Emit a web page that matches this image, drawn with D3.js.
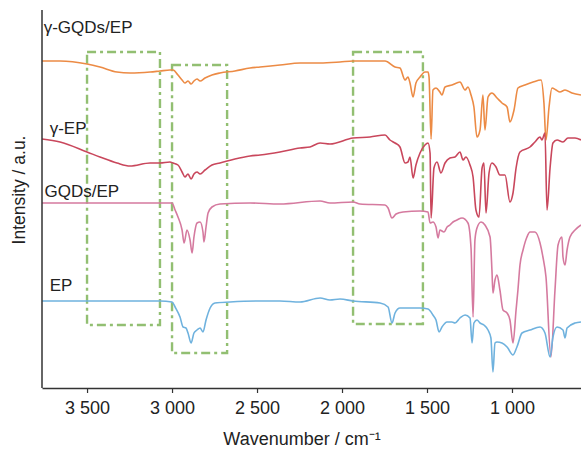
<!DOCTYPE html>
<html>
<head>
<meta charset="utf-8">
<script src="https://cdn.jsdelivr.net/npm/d3@7"></script>
<style>
  body { margin: 0; background: #fff; }
  svg { display: block; font-family: "Liberation Sans", Arial, sans-serif; }
</style>
</head>
<body>
<div id="chart"></div>
<script>
// FTIR spectra, wavenumber (cm-1) vs intensity (a.u., stacked)
const seriesNames = ["γ-GQDs/EP", "γ-EP", "GQDs/EP", "EP"];
const seriesColors = ["#ec8b45", "#c9475c", "#d57a9f", "#6fb2de"];
const xTicks = [3500, 3000, 2500, 2000, 1500, 1000];

const gammaGqdsEp = [[3765,327],[3659,327],[3500,324],[3424,321],[3324,316],[3247,315],[3129,316],[3071,317],[3012,318],[2994,318],[2965,313],[2941,308],[2924,305],[2906,307],[2888,304],[2871,307],[2853,309],[2835,307],[2806,310],[2765,313],[2718,315],[2630,317],[2541,320],[2482,321],[2365,323],[2247,325],[2129,325],[2012,326],[1935,327],[1835,327],[1747,327],[1688,321],[1659,320],[1629,308],[1612,311],[1600,305],[1582,291],[1565,305],[1541,311],[1512,316],[1494,316],[1488,311],[1476,249],[1465,298],[1447,300],[1424,296],[1412,293],[1394,301],[1353,303],[1306,306],[1276,298],[1259,301],[1241,293],[1224,281],[1206,251],[1188,258],[1171,293],[1159,258],[1141,291],[1118,295],[1088,290],[1059,285],[1029,281],[1012,266],[988,278],[965,300],[924,303],[876,306],[829,308],[812,285],[800,248],[782,281],[765,300],[741,298],[718,296],[688,298],[647,295],[594,293]];

const gammaEp = [[3765,249],[3659,246],[3500,236],[3424,231],[3324,225],[3247,222],[3129,225],[3071,225],[3012,226],[2994,225],[2965,223],[2941,216],[2924,211],[2906,214],[2888,209],[2871,214],[2853,216],[2835,214],[2806,218],[2765,223],[2718,225],[2630,229],[2541,232],[2482,233],[2365,236],[2247,240],[2188,241],[2129,245],[2071,244],[1935,250],[1835,251],[1747,253],[1718,248],[1688,245],[1659,241],[1629,225],[1612,226],[1600,231],[1582,210],[1565,223],[1541,235],[1512,243],[1494,245],[1482,235],[1476,170],[1459,220],[1441,226],[1418,215],[1394,225],[1365,230],[1335,231],[1306,236],[1288,228],[1271,231],[1247,223],[1229,211],[1212,178],[1194,171],[1176,220],[1165,225],[1153,175],[1135,215],[1118,225],[1094,221],[1071,213],[1041,213],[1012,186],[994,195],[976,220],[953,236],[894,241],[865,246],[835,251],[824,248],[806,255],[794,178],[776,220],[759,245],[735,248],[700,246],[671,250],[629,250],[594,248]];

const gqdsEp = [[3765,185],[3500,185],[3071,185],[3000,185],[2982,178],[2965,171],[2941,158],[2929,145],[2912,158],[2894,148],[2882,135],[2871,151],[2853,165],[2835,166],[2818,156],[2812,146],[2800,161],[2788,175],[2765,181],[2718,184],[2541,185],[2365,184],[2129,187],[2071,185],[1935,186],[1894,184],[1747,183],[1729,180],[1706,170],[1682,174],[1641,176],[1541,177],[1494,176],[1482,165],[1465,166],[1447,161],[1435,150],[1424,158],[1400,156],[1382,161],[1365,163],[1347,166],[1324,168],[1294,170],[1259,165],[1241,140],[1229,71],[1218,148],[1206,160],[1182,166],[1159,163],[1129,151],[1118,118],[1112,95],[1100,108],[1088,113],[1071,98],[1053,78],[1029,75],[1012,68],[994,45],[976,78],[965,98],[953,123],[935,138],[912,151],[894,156],[865,156],[835,145],[818,131],[800,111],[771,31],[747,98],[729,143],[706,151],[700,131],[688,123],[676,138],[659,151],[629,158],[594,163]];

const ep = [[3765,87],[3659,87],[3500,87],[3071,87],[3000,86],[2982,81],[2953,71],[2935,61],[2918,60],[2906,55],[2888,45],[2871,55],[2853,58],[2835,60],[2818,56],[2800,68],[2776,80],[2747,85],[2659,86],[2482,87],[2365,87],[2247,86],[2129,90],[2071,88],[2012,89],[1935,87],[1776,85],[1729,81],[1706,65],[1688,75],[1659,80],[1541,80],[1494,79],[1465,73],[1447,68],[1429,56],[1412,61],[1382,66],[1353,66],[1335,65],[1306,70],[1276,73],[1247,70],[1235,45],[1224,65],[1206,68],[1188,65],[1165,63],[1141,58],[1124,50],[1112,16],[1100,45],[1088,46],[1059,45],[1029,41],[994,33],[971,41],[941,55],[894,58],[835,61],[806,55],[776,31],[759,51],[735,61],[700,58],[688,50],[676,60],[629,65],[594,66]];

const allSeries = [gammaGqdsEp, gammaEp, gqdsEp, ep];

// highlighted regions: [wavenumber from, wavenumber to, intensity top, intensity bottom]
const boxes = [[3500, 3071, 336, 63], [3000, 2676, 323, 35], [1935, 1524, 336, 64]];
// label anchor: [wavenumber, intensity]
const labelPos = [[3755, 355], [3720, 254], [3750, 191], [3720, 97]];

const width = 581;
const height = 451;
const margin = { top: 10, right: 0, bottom: 63, left: 42 };

const svg = d3.select("#chart")
  .append("svg")
  .attr("width", width)
  .attr("height", height);

const x = d3.scaleLinear()
  .domain([3765, 594])
  .range([margin.left, width - margin.right]);

const y = d3.scaleLinear()
  .domain([0, 378])
  .range([height - margin.bottom, margin.top]);

// dashed boxes
svg.selectAll(".box")
  .data(boxes)
  .enter()
  .append("rect")
  .attr("class", "box")
  .attr("x", d => x(d[0]))
  .attr("y", d => y(d[2]))
  .attr("width", d => x(d[1]) - x(d[0]))
  .attr("height", d => y(d[3]) - y(d[2]))
  .attr("fill", "none")
  .attr("stroke", "#92bf72")
  .attr("stroke-width", 2.4)
  .attr("stroke-dasharray", "9,4,3,4");

// spectra
const line = d3.line()
  .x(d => x(d[0]))
  .y(d => y(d[1]))
  .curve(d3.curveMonotoneX);

svg.selectAll(".spec")
  .data(allSeries)
  .enter()
  .append("path")
  .attr("class", "spec")
  .attr("d", line)
  .attr("fill", "none")
  .attr("stroke", (d, i) => seriesColors[i])
  .attr("stroke-width", 1.6)
  .attr("stroke-linejoin", "round");

// curve labels
svg.selectAll(".lbl")
  .data(seriesNames)
  .enter()
  .append("text")
  .attr("class", "lbl")
  .attr("x", (d, i) => x(labelPos[i][0]))
  .attr("y", (d, i) => y(labelPos[i][1]))
  .style("font-size", "17px")
  .style("fill", "#222")
  .text(d => d);

// axes
const fmt = d => d >= 1000 ? Math.floor(d / 1000) + " " + String(d % 1000).padStart(3, "0") : String(d);

const xAxis = svg.append("g")
  .attr("transform", `translate(0,${height - margin.bottom})`)
  .call(d3.axisBottom(x).tickValues(xTicks).tickFormat(fmt).tickSize(5).tickSizeOuter(0));
xAxis.select(".domain").attr("stroke", "#333").attr("stroke-width", 1.5);
xAxis.selectAll(".tick line").attr("stroke", "#333").attr("stroke-width", 1.2);
xAxis.selectAll("text")
  .attr("y", 26)
  .attr("dy", null)
  .style("font-size", "18px")
  .style("fill", "#222")
  .style("font-family", "'Liberation Sans', Arial, sans-serif");

svg.append("line")
  .attr("x1", margin.left)
  .attr("x2", margin.left)
  .attr("y1", margin.top)
  .attr("y2", height - margin.bottom)
  .attr("stroke", "#333")
  .attr("stroke-width", 1.5);

// axis titles
svg.append("text")
  .attr("x", 302)
  .attr("y", 445)
  .attr("text-anchor", "middle")
  .style("font-size", "18px")
  .style("fill", "#222")
  .text("Wavenumber / cm⁻¹");

svg.append("text")
  .attr("transform", "rotate(-90)")
  .attr("x", -190)
  .attr("y", 25)
  .attr("text-anchor", "middle")
  .style("font-size", "17.5px")
  .style("fill", "#222")
  .text("Intensity / a.u.");
</script>
</body>
</html>
